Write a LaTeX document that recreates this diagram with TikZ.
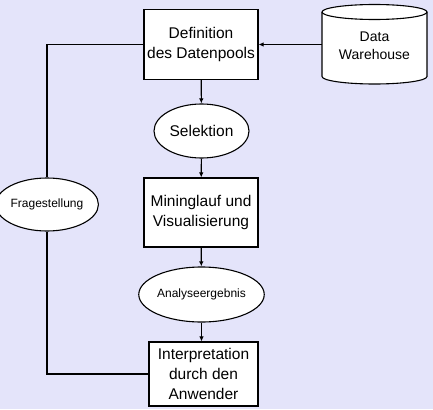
\documentclass[tikz,border=0pt]{standalone}
\usepackage{fontspec}
\setmainfont{Liberation Sans}
\usetikzlibrary{shapes.geometric,arrows.meta}
\definecolor{bgc}{RGB}{228,228,250}
\begin{document}
\begin{tikzpicture}[x=1pt,y=-1pt,
  every node/.style={font=\fontsize{15.5}{20}\selectfont, text=black},
  box/.style={draw=black, line width=1.1pt, fill=white, align=center, inner sep=0pt},
  ell/.style={draw=black, line width=1.1pt, fill=white, ellipse, inner sep=0pt, align=center},
  conn/.style={draw=black, line width=1.1pt},
  arr/.style={conn, -{Latex[length=5pt,width=4.5pt]}}]
\fill[bgc] (0,0) rectangle (433,409);
\useasboundingbox (0,0) rectangle (433,409);
% boxes
\node[box, minimum width=114pt, minimum height=70pt] (def) at (201,44.5) {Definition\\des Datenpools};
\node[ell, minimum width=95pt, minimum height=54pt] (sel) at (201.5,131) {Selektion};
\node[box, minimum width=114pt, minimum height=69pt] (min) at (201,212.5) {Mininglauf und\\Visualisierung};
\node[ell, minimum width=95pt, minimum height=55pt, font=\fontsize{12}{14}\selectfont] (ana) at (201.5,294.5) {Analyseergebnis};
\node[box, minimum width=109pt, minimum height=64pt] (int) at (203.5,374) {Interpretation\\durch den\\Anwender};
\node[ell, minimum width=94pt, minimum height=53pt, font=\fontsize{12}{14}\selectfont] (fra) at (47,204.5) {Fragestellung};
% cylinder
\filldraw[fill=white, draw=black, line width=1.1pt] (322,12) -- (322,76.5) arc[start angle=180, end angle=360, x radius=52.5, y radius=-7.5] -- (427,12) arc[start angle=0, end angle=180, x radius=52.5, y radius=-7.5] -- cycle;
\draw[black, line width=1.1pt] (322,12) arc[start angle=180, end angle=360, x radius=52.5, y radius=-7.5];
\node[align=center, font=\fontsize{14}{18}\selectfont, inner sep=0pt, minimum width=105pt, minimum height=80pt] (dw) at (374.5,46) {Data\\Warehouse};
% connectors
\draw[arr] (dw.west |- def.east) -- (def.east);
\draw[arr] (def) -- (sel);
\draw[arr] (sel) -- (min);
\draw[arr] (min) -- (ana);
\draw[arr] (ana.south) -- (ana.south |- int.north);
\draw[conn] (def.west) -| (fra.north);
\draw[conn] (int.west) -| (fra.south);
\end{tikzpicture}
\end{document}
